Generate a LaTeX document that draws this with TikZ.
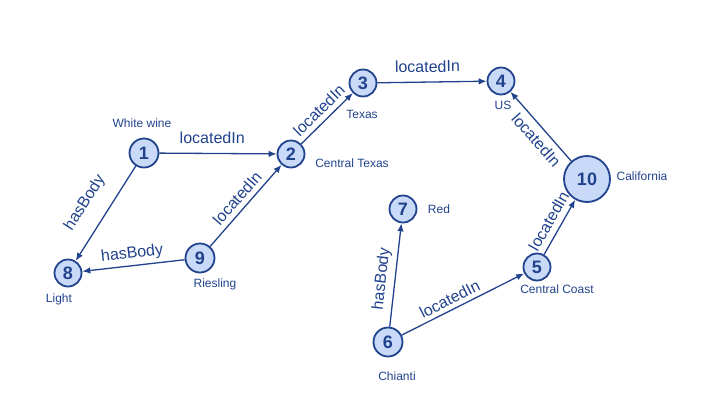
\documentclass[tikz,border=0pt]{standalone}
\usepackage{fontspec}
\setmainfont{Liberation Sans}
\usetikzlibrary{arrows.meta}
\definecolor{ontoblue}{RGB}{33,66,140}
\definecolor{ontofill}{RGB}{201,218,248}

\begin{document}
\begin{tikzpicture}[x=1pt,y=-1pt,
    ent/.style={circle,draw=ontoblue,fill=ontofill,line width=1.8pt,
                inner sep=0pt,minimum size=27pt,text=ontoblue,
                font=\fontsize{18}{18}\selectfont\bfseries},
    tag/.style={text=ontoblue,inner sep=0pt,font=\fontsize{12}{14}\selectfont},
    rel/.style={draw=ontoblue,line width=1.3pt,-{Latex[length=8pt,width=6.5pt]}},
    lab/.style={text=ontoblue,sloped,inner sep=1pt,font=\fontsize{16}{18}\selectfont}]
    \useasboundingbox (0,0) rectangle (702,416);
    % Entities
    \node[ent,minimum size=29pt] (n1) at (144,153) {1};
    \node[ent] (n2) at (291,154) {2};
    \node[ent] (n3) at (363,83) {3};
    \node[ent] (n4) at (501,81) {4};
    \node[ent] (n5) at (537,267) {5};
    \node[ent,minimum size=29pt] (n6) at (388,342) {6};
    \node[ent] (n7) at (403,209) {7};
    \node[ent] (n8) at (68,273) {8};
    \node[ent,minimum size=29pt] (n9) at (200,258) {9};
    \node[ent,minimum size=46pt] (n10) at (587,179) {10};
    % Names
    \node[tag] (t1) at (142,123) {White wine};
    \node[tag] (t2) at (352,163) {Central Texas};
    \node[tag] (t3) at (362,114) {Texas};
    \node[tag] (t4) at (503,105) {US};
    \node[tag] (t5) at (557,289) {Central Coast};
    \node[tag] (t6) at (397,376) {Chianti};
    \node[tag] (t7) at (439,209) {Red};
    \node[tag] (t8) at (59,299) {Light};
    \node[tag] (t9) at (215,284) {Riesling};
    \node[tag] (t10) at (642,176) {California};
    % Relations
    \draw[rel] (n1) -- node[lab,above=8pt,pos=0.45] {locatedIn} (n2);
    \draw[rel] (n2) -- node[lab,above=4pt] {locatedIn} (n3);
    \draw[rel] (n3) -- node[lab,above=8pt,pos=0.46] {locatedIn} (n4);
    \draw[rel] (n10) -- node[lab,below=5pt,pos=0.42] {locatedIn} (n4);
    \draw[rel] (n5) -- node[lab,above=5pt] {locatedIn} (n10);
    \draw[rel] (n6) -- node[lab,above=3pt,pos=0.43] {locatedIn} (n5);
    \draw[rel] (n6) -- node[lab,above=4pt,pos=0.45] {hasBody} (n7);
    \draw[rel] (n9) -- node[lab,above=4pt] {locatedIn} (n2);
    \draw[rel] (n9) -- node[lab,above=3pt] {hasBody} (n8);
    \draw[rel] (n1) -- node[lab,above=14pt,pos=0.52] {hasBody} (n8);
\end{tikzpicture}
\end{document}
